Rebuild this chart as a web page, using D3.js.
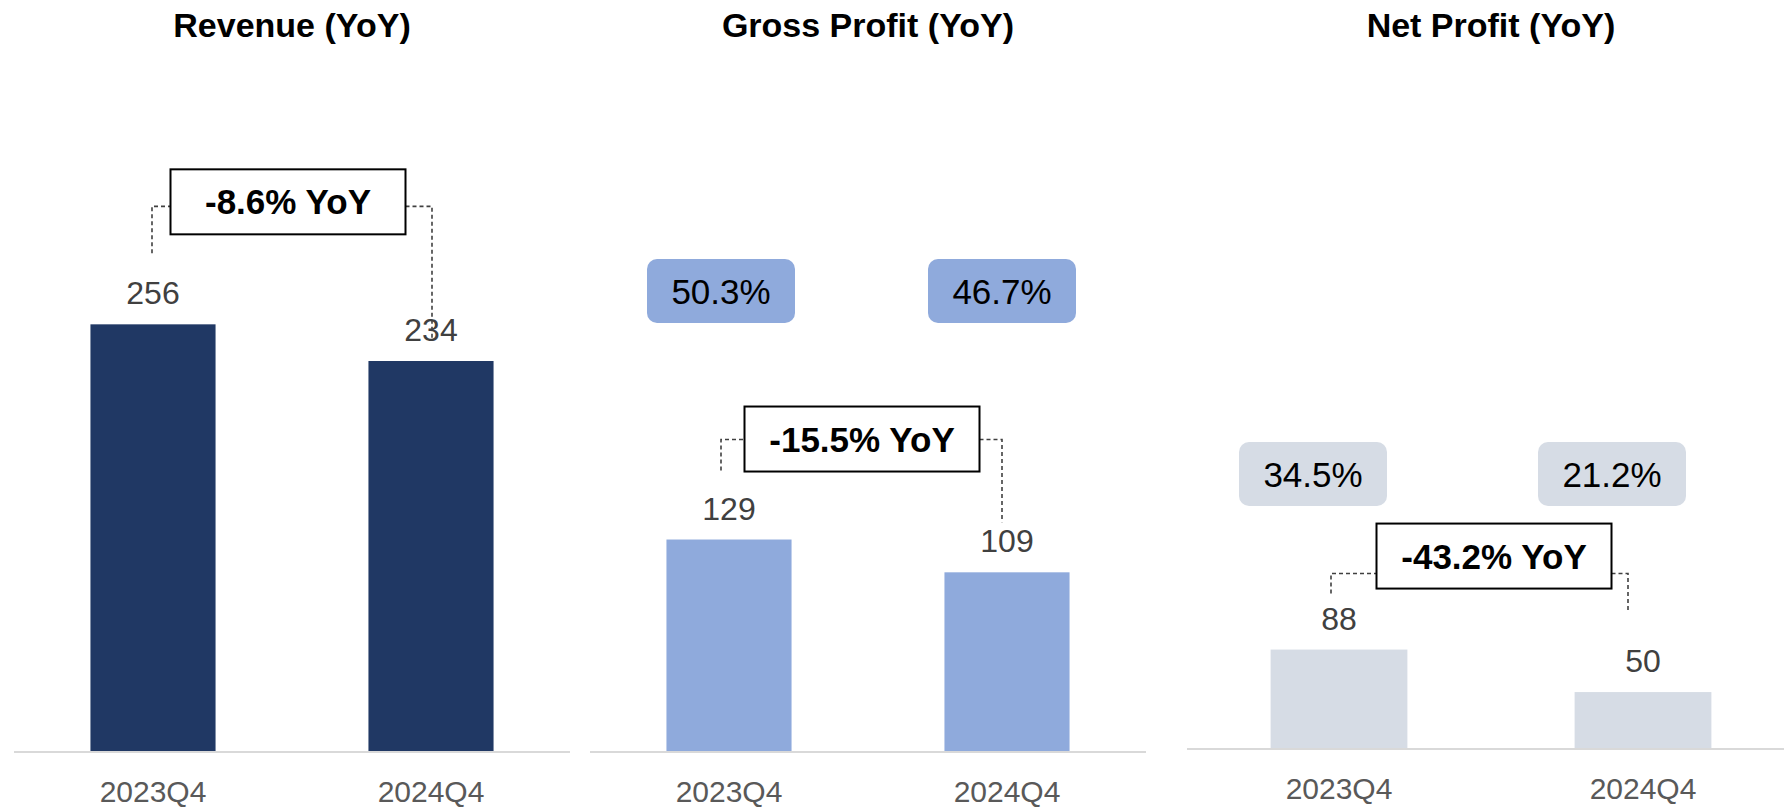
<!DOCTYPE html>
<html>
<head>
<meta charset="utf-8">
<title>Revenue / Gross Profit / Net Profit YoY</title>
<script src="https://cdn.jsdelivr.net/npm/d3@7/dist/d3.min.js"></script>
<style>
	html, body { margin: 0; padding: 0; background: #fff; overflow: hidden; }
	svg { display: block; font-family: "Liberation Sans", Arial, sans-serif; }
</style>
</head>
<body>
<svg id="chart"></svg>
<script>
// 数据
var periods = ["2023Q4", "2024Q4"];
var titles = ["Revenue (YoY)", "Gross Profit (YoY)", "Net Profit (YoY)"];
var revenue = [256, 234];
var grossProfit = [129, 109];
var netProfit = [88, 50];
var yoyLabels = ["-8.6% YoY", "-15.5% YoY", "-43.2% YoY"];
var grossMargin = ["50.3%", "46.7%"];
var netMargin = ["34.5%", "21.2%"];

var W = 1784, H = 809;

// 每个小图的布局 (像素)
var panels = [
	{ values: revenue, margins: null, color: "#203864",
	  x0: 14, x1: 570, base: 751, axisMax: 300,
	  boxUp: 155, bracketDown: 37, endUp: [71, 21], endDx: [-1, 1], boxDx: -4 },
	{ values: grossProfit, margins: grossMargin, color: "#8FAADC",
	  x0: 590, x1: 1146, base: 751, axisMax: 305, pillY: 259, pillDx: [-8, -5],
	  boxUp: 133, bracketDown: 33, endUp: [69, 50], endDx: [-8, -5], boxDx: -6 },
	{ values: netProfit, margins: netMargin, color: "#D6DCE5",
	  x0: 1187, x1: 1795, base: 748, axisMax: 447, pillY: 442, pillDx: [-26, -31],
	  boxUp: 126, bracketDown: 50, endUp: [56, 81], endDx: [-8, -15], boxDx: 3 }
];
var plotH = 500;

var svg = d3.select("#chart").attr("width", W).attr("height", H);

panels.forEach(function(p, i) {
	var g = svg.append("g");

	var x = d3.scaleBand().domain(periods).range([p.x0, p.x1])
		.paddingInner(0.55).paddingOuter(0.275);
	var y = d3.scaleLinear().domain([0, p.axisMax]).range([p.base, p.base - plotH]);
	var cx = function(k) { return x(periods[k]) + x.bandwidth() / 2; };
	var mid = (cx(0) + cx(1)) / 2;

	// 标题
	g.append("text")
		.attr("x", mid).attr("y", 37)
		.attr("text-anchor", "middle")
		.attr("font-size", 34).attr("font-weight", "bold").attr("fill", "#000")
		.text(titles[i]);

	// 柱子
	g.selectAll(".bar").data(p.values).enter().append("rect")
		.attr("class", "bar")
		.attr("x", function(d, k) { return x(periods[k]); })
		.attr("y", function(d) { return y(d); })
		.attr("width", x.bandwidth())
		.attr("height", function(d) { return y(0) - y(d); })
		.attr("fill", p.color);

	// 数值
	g.selectAll(".val").data(p.values).enter().append("text")
		.attr("class", "val")
		.attr("x", function(d, k) { return cx(k); })
		.attr("y", function(d) { return y(d) - 20; })
		.attr("text-anchor", "middle")
		.attr("font-size", 32).attr("fill", "#404040")
		.text(function(d) { return d; });

	// x 轴
	var axis = g.append("g")
		.attr("transform", "translate(0," + (p.base + 1) + ")")
		.call(d3.axisBottom(x).tickSize(0).tickPadding(29));
	axis.select(".domain").attr("stroke", "#D9D9D9").attr("stroke-width", 2)
		.attr("d", "M" + p.x0 + ",0H" + p.x1);
	axis.selectAll(".tick text")
		.attr("font-size", 30).attr("fill", "#595959")
		.attr("font-family", "Liberation Sans, Arial, sans-serif");

	// 利润率标签
	if (p.margins) {
		var pill = g.selectAll(".pill").data(p.margins).enter().append("g")
			.attr("class", "pill")
			.attr("transform", function(d, k) {
				return "translate(" + (cx(k) + p.pillDx[k]) + "," + (p.pillY + 32) + ")";
			});
		pill.append("rect")
			.attr("x", -74).attr("y", -32).attr("width", 148).attr("height", 64)
			.attr("rx", 10).attr("fill", p.color);
		pill.append("text")
			.attr("text-anchor", "middle").attr("dy", "0.36em")
			.attr("font-size", 35).attr("fill", "#000")
			.text(function(d) { return d; });
	}

	// 同比框和虚线
	var topY = y(d3.max(p.values));
	var boxTop = topY - p.boxUp;
	var boxW = 235, boxH = 65;
	var bx = mid + p.boxDx - boxW / 2;
	var by = boxTop + p.bracketDown;
	var lx = cx(0) + p.endDx[0], rx = cx(1) + p.endDx[1];
	var ends = [y(p.values[0]) - p.endUp[0], y(p.values[1]) - p.endUp[1]];

	var dash = { stroke: "#404040", "stroke-width": 1.6, "stroke-dasharray": "4,3", fill: "none" };
	var lines = [
		"M" + lx + "," + ends[0] + "V" + by + "H" + bx,
		"M" + (bx + boxW) + "," + by + "H" + rx + "V" + ends[1]
	];
	g.selectAll(".bracket").data(lines).enter().append("path")
		.attr("class", "bracket")
		.attr("d", function(d) { return d; })
		.each(function() {
			var s = d3.select(this);
			Object.keys(dash).forEach(function(k) { s.attr(k, dash[k]); });
		});

	g.append("rect")
		.attr("x", bx).attr("y", boxTop).attr("width", boxW).attr("height", boxH)
		.attr("fill", "#fff").attr("stroke", "#000").attr("stroke-width", 2);
	g.append("text")
		.attr("x", bx + boxW / 2).attr("y", boxTop + boxH / 2)
		.attr("dy", "0.36em")
		.attr("text-anchor", "middle")
		.attr("font-size", 35).attr("font-weight", "bold").attr("fill", "#000")
		.text(yoyLabels[i]);
});
</script>
</body>
</html>
